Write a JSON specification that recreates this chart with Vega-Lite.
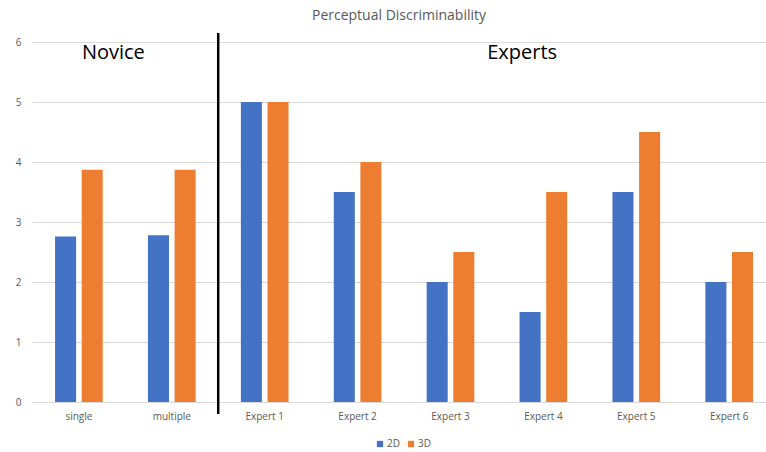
{
  "$schema": "https://vega.github.io/schema/vega-lite/v6.json",
  "width": 734,
  "height": 360,
  "autosize": {"type": "none"},
  "padding": {"left": 32, "top": 42, "right": 0, "bottom": 50},
  "background": "white",
  "title": {"text": "Perceptual Discriminability", "fontSize": 14, "font": "Open Sans", "fontWeight": "normal", "color": "#595959", "frame": "group", "anchor": "middle", "offset": 9},
  "config": {
    "view": {"stroke": null},
    "font": "Open Sans",
    "axisX": {"domainColor": "#d9d9d9", "ticks": false, "labelColor": "#595959", "labelFontSize": 10, "labelAngle": 0, "labelPadding": 9, "grid": false},
    "axisY": {"domain": false, "ticks": false, "gridColor": "#d9d9d9", "labelColor": "#595959", "labelFontSize": 10, "labelPadding": 11},
    "legend": {"orient": "none", "legendX": 343, "legendY": 397, "direction": "horizontal", "symbolType": "square", "symbolSize": 40, "labelFontSize": 10, "labelColor": "#595959", "columnPadding": 6, "labelOffset": 2}
  },
  "datasets": {
    "bars": [
      {"cat": "single", "series": "2D", "value": 2.76},
      {"cat": "single", "series": "3D", "value": 3.87},
      {"cat": "multiple", "series": "2D", "value": 2.78},
      {"cat": "multiple", "series": "3D", "value": 3.87},
      {"cat": "Expert 1", "series": "2D", "value": 5},
      {"cat": "Expert 1", "series": "3D", "value": 5},
      {"cat": "Expert 2", "series": "2D", "value": 3.5},
      {"cat": "Expert 2", "series": "3D", "value": 4},
      {"cat": "Expert 3", "series": "2D", "value": 2},
      {"cat": "Expert 3", "series": "3D", "value": 2.5},
      {"cat": "Expert 4", "series": "2D", "value": 1.5},
      {"cat": "Expert 4", "series": "3D", "value": 3.5},
      {"cat": "Expert 5", "series": "2D", "value": 3.5},
      {"cat": "Expert 5", "series": "3D", "value": 4.5},
      {"cat": "Expert 6", "series": "2D", "value": 2},
      {"cat": "Expert 6", "series": "3D", "value": 2.5}
    ],
    "divider": [{"cat": "multiple", "top": 6.15, "bottom": -0.2}],
    "novice": [{"cat": "multiple", "label": "Novice", "y": 5.82}],
    "experts": [{"cat": "Expert 4", "label": "Experts", "y": 5.82}]
  },
  "layer": [
    {
      "data": {"name": "bars"},
      "mark": {"type": "bar"},
      "encoding": {
        "x": {"field": "cat", "type": "nominal", "title": null,
              "scale": {"domain": ["single", "multiple", "Expert 1", "Expert 2", "Expert 3", "Expert 4", "Expert 5", "Expert 6"], "paddingInner": 0.487, "paddingOuter": 0.194, "align": 0.64}},
        "xOffset": {"field": "series", "type": "nominal", "scale": {"paddingInner": 0.21, "paddingOuter": 0}},
        "y": {"field": "value", "type": "quantitative", "title": null, "scale": {"domain": [0, 6], "nice": false}, "axis": {"values": [0, 1, 2, 3, 4, 5, 6], "format": "d"}},
        "color": {"field": "series", "type": "nominal", "title": null, "scale": {"domain": ["2D", "3D"], "range": ["#4472C4", "#ED7D31"]}}
      }
    },
    {
      "data": {"name": "divider"},
      "mark": {"type": "rule", "color": "black", "strokeWidth": 2.5, "clip": false},
      "encoding": {
        "x": {"field": "cat", "type": "nominal", "bandPosition": 1.474},
        "y": {"field": "top", "type": "quantitative"},
        "y2": {"field": "bottom"}
      }
    },
    {
      "data": {"name": "novice"},
      "mark": {"type": "text", "fontSize": 20, "color": "black", "align": "center", "baseline": "middle", "font": "Open Sans"},
      "encoding": {
        "x": {"field": "cat", "type": "nominal", "bandPosition": -0.726},
        "y": {"field": "y", "type": "quantitative"},
        "text": {"field": "label"}
      }
    },
    {
      "data": {"name": "experts"},
      "mark": {"type": "text", "fontSize": 20, "color": "black", "align": "center", "baseline": "middle", "font": "Open Sans"},
      "encoding": {
        "x": {"field": "cat", "type": "nominal", "bandPosition": 0.055},
        "y": {"field": "y", "type": "quantitative"},
        "text": {"field": "label"}
      }
    }
  ]
}
